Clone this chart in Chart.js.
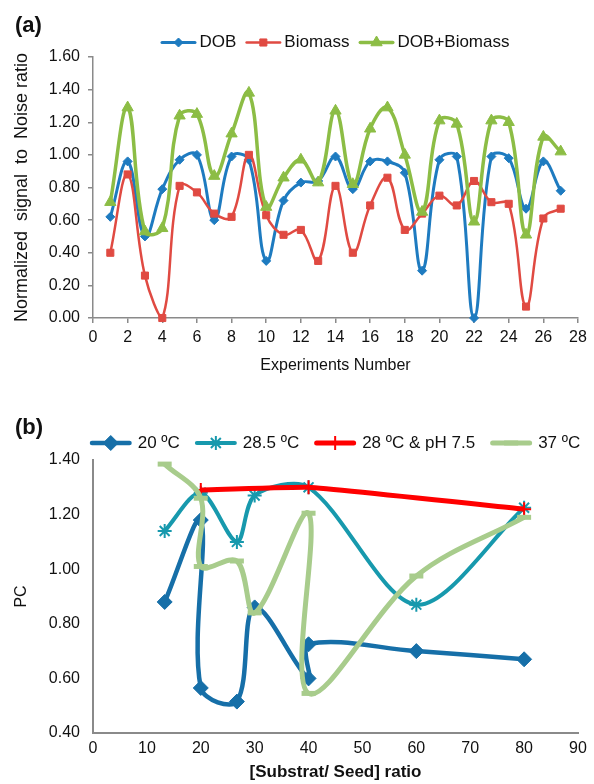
<!DOCTYPE html>
<html>
<head>
<meta charset="utf-8">
<script src="https://cdn.jsdelivr.net/npm/chart.js@4/dist/chart.umd.min.js"></script>
<style>
  body { margin: 0; background: #fff; }
  #pagina { position: relative; width: 594px; height: 784px; }
  #graficoA { position: absolute; left: 0; top: 0; }
  #graficoB { position: absolute; left: 0; top: 384px; }
</style>
</head>
<body>
<div id="pagina">
  <canvas id="graficoA" width="594" height="384"></canvas>
  <canvas id="graficoB" width="594" height="400"></canvas>
</div>
<script>
// ---- dados do gráfico (a) ----
const experimentos = [1, 2, 3, 4, 5, 6, 7, 8, 9, 10, 11, 12, 13, 14, 15, 16, 17, 18, 19, 20, 21, 22, 23, 24, 25, 26, 27];
const dob = [0.62, 0.96, 0.50, 0.79, 0.97, 1.00, 0.60, 0.99, 0.97, 0.35, 0.72, 0.83, 0.84, 0.99, 0.79, 0.96, 0.96, 0.89, 0.29, 0.97, 0.99, 0.00, 0.99, 0.98, 0.67, 0.96, 0.78];
const biomassa = [0.40, 0.88, 0.26, 0.00, 0.81, 0.77, 0.64, 0.62, 1.00, 0.63, 0.51, 0.54, 0.35, 0.81, 0.40, 0.69, 0.86, 0.54, 0.64, 0.75, 0.69, 0.84, 0.71, 0.70, 0.07, 0.61, 0.67];
const dobBiomassa = [0.71, 1.29, 0.53, 0.55, 1.24, 1.25, 0.87, 1.13, 1.38, 0.68, 0.86, 0.97, 0.83, 1.27, 0.82, 1.16, 1.29, 1.00, 0.65, 1.21, 1.19, 0.59, 1.21, 1.20, 0.51, 1.11, 1.02];

// ---- dados do gráfico (b) ----
const razao20 = [13.3, 20, 20, 26.7, 30, 40, 40, 60, 80];
const pc20 = [0.88, 1.18, 0.565, 0.515, 0.86, 0.60, 0.725, 0.70, 0.67];
const razao285 = [13.3, 20, 26.7, 30, 40, 60, 80];
const pc285 = [1.14, 1.28, 1.10, 1.27, 1.30, 0.87, 1.225];
const razaoPh = [20, 40, 80];
const pcPh = [1.29, 1.30, 1.22];
const razao37 = [13.3, 20, 20, 26.7, 30, 40, 40, 60, 80];
const pc37 = [1.385, 1.26, 1.01, 1.03, 0.84, 1.205, 0.545, 0.975, 1.19];

const FONTE = "'Liberation Sans', Arial, sans-serif";
Chart.defaults.font.family = FONTE;
Chart.defaults.color = '#111';

function pontos(xs, ys) {
    return xs.map((x, i) => ({ x: x, y: ys[i] }));
}

function serie(rotulo, xs, ys, cor, esp, estilo, raio, bordaPonto, ordem, tensao) {
    return {
        label: rotulo,
        data: pontos(xs, ys),
        borderColor: cor,
        borderWidth: esp,
        pointStyle: estilo,
        pointRadius: raio,
        pointBackgroundColor: cor,
        pointBorderColor: cor,
        pointBorderWidth: bordaPonto,
        tension: tensao,
        clip: 12,
        order: ordem
    };
}

// legenda no estilo do Excel: linha + marcador + texto
const legendaLinha = {
    id: 'legendaLinha',
    afterDraw(chart, args, op) {
        const ctx = chart.ctx;
        const dsets = chart.data.datasets;
        ctx.save();
        ctx.font = op.tamanho + 'px ' + FONTE;
        ctx.textBaseline = 'middle';
        const larguras = dsets.map(ds => op.linha + op.folga + ctx.measureText(ds.label).width);
        const total = larguras.reduce((a, b) => a + b, 0) + op.espaco * (dsets.length - 1);
        let x = op.centro - total / 2;
        dsets.forEach((ds, i) => {
            ctx.strokeStyle = ds.borderColor;
            ctx.lineWidth = ds.borderWidth;
            ctx.lineCap = 'round';
            ctx.beginPath();
            ctx.moveTo(x + ds.borderWidth / 2, op.y);
            ctx.lineTo(x + op.linha - ds.borderWidth / 2, op.y);
            ctx.stroke();
            ctx.lineCap = 'butt';
            ctx.fillStyle = ds.pointBackgroundColor;
            ctx.strokeStyle = ds.pointBorderColor;
            ctx.lineWidth = ds.pointBorderWidth;
            if (Chart.helpers && Chart.helpers.drawPoint) {
                Chart.helpers.drawPoint(ctx, {
                    pointStyle: ds.pointStyle, radius: ds.pointRadius,
                    borderWidth: ds.pointBorderWidth, rotation: 0
                }, x + op.linha / 2, op.y);
            }
            ctx.fillStyle = '#111';
            ctx.fillText(ds.label, x + op.linha + op.folga, op.y);
            x += larguras[i] + op.espaco;
        });
        // rótulo do painel
        ctx.font = 'bold 22px ' + FONTE;
        ctx.textBaseline = 'alphabetic';
        ctx.fillStyle = '#111';
        ctx.fillText(op.rotulo, 15, op.rotuloY);
        ctx.restore();
    }
};

function eixo(cfg) {
    return {
        type: 'linear',
        min: cfg.min,
        max: cfg.max,
        ticks: {
            stepSize: cfg.passo,
            padding: cfg.padding,
            font: { size: 16 },
            color: '#111',
            callback: cfg.formato
        },
        grid: {
            drawOnChartArea: false,
            drawTicks: cfg.marcas,
            tickLength: 5,
            color: '#8a8a8a',
            lineWidth: cfg.borda
        },
        border: { color: '#8a8a8a', width: cfg.borda },
        title: {
            display: true,
            text: cfg.titulo,
            font: { size: cfg.tituloTam, weight: cfg.negrito ? 'bold' : 'normal' },
            color: '#111',
            padding: cfg.tituloPad
        },
        afterFit: cfg.ajuste
    };
}

function criarGrafico(id, datasets, op) {
    return new Chart(document.getElementById(id), {
        type: 'line',
        data: { datasets: datasets },
        options: {
            responsive: false,
            animation: false,
            events: [],
            layout: { padding: { top: op.topo, right: 16, left: 0, bottom: 0 } },
            plugins: {
                legend: { display: false },
                tooltip: { enabled: false },
                legendaLinha: op.legenda
            },
            scales: { x: op.x, y: op.y }
        },
        plugins: [legendaLinha]
    });
}

/* =======================
   GRÁFICO (a)
======================== */
criarGrafico('graficoA', [
    serie('DOB', experimentos, dob, '#1e7bc0', 3, 'rectRot', 4.5, 1, 3, 0.4),
    serie('Biomass', experimentos, biomassa, '#e04a42', 2.5, 'rect', 5, 1, 2, 0.4),
    serie('DOB+Biomass', experimentos, dobBiomassa, '#8cbd45', 3.5, 'triangle', 6.5, 1, 1, 0.4)
], {
    topo: 57,
    legenda: { centro: 335, y: 42.5, tamanho: 17, linha: 36, folga: 3, espaco: 9, rotulo: '(a)', rotuloY: 32 },
    x: eixo({
        min: 0, max: 28, passo: 2, padding: 5, marcas: true, borda: 1.5,
        titulo: 'Experiments Number', tituloTam: 16, tituloPad: { top: 4, bottom: 9 },
        ajuste: s => { s.height = 66; }
    }),
    y: eixo({
        min: 0, max: 1.6, passo: 0.2, padding: 8, marcas: true, borda: 1.5,
        formato: v => v.toFixed(2),
        titulo: 'Normalized  signal  to  Noise ratio', tituloTam: 18, tituloPad: { top: 11, bottom: 0 },
        ajuste: s => { s.width = 93; }
    })
});

/* =======================
   GRÁFICO (b)
======================== */
criarGrafico('graficoB', [
    serie('20 ºC', razao20, pc20, '#166fa8', 4.5, 'rectRot', 7.5, 1, 4, 0.35),
    serie('28.5 ºC', razao285, pc285, '#1799ad', 4, 'star', 7, 2, 3, 0.3),
    serie('28 ºC & pH 7.5', razaoPh, pcPh, '#ff0000', 5, 'cross', 7, 2, 2, 0.1),
    serie('37 ºC', razao37, pc37, '#a8cc8c', 5, 'line', 7, 5, 1, 0.35)
], {
    topo: 76,
    legenda: { centro: 335, y: 59, tamanho: 17, linha: 42, folga: 6, espaco: 15, rotulo: '(b)', rotuloY: 50 },
    x: eixo({
        min: 0, max: 90, passo: 10, padding: 6, marcas: false, borda: 2,
        titulo: '[Substrat/ Seed] ratio', tituloTam: 17, negrito: true, tituloPad: { top: 2, bottom: 1 },
        ajuste: s => { s.height = 51; }
    }),
    y: eixo({
        min: 0.4, max: 1.4, passo: 0.2, padding: 13, marcas: false, borda: 2,
        formato: v => v.toFixed(2),
        titulo: 'PC', tituloTam: 16, tituloPad: { top: 12, bottom: 0 },
        ajuste: s => { s.width = 93; }
    })
});
</script>
</body>
</html>
